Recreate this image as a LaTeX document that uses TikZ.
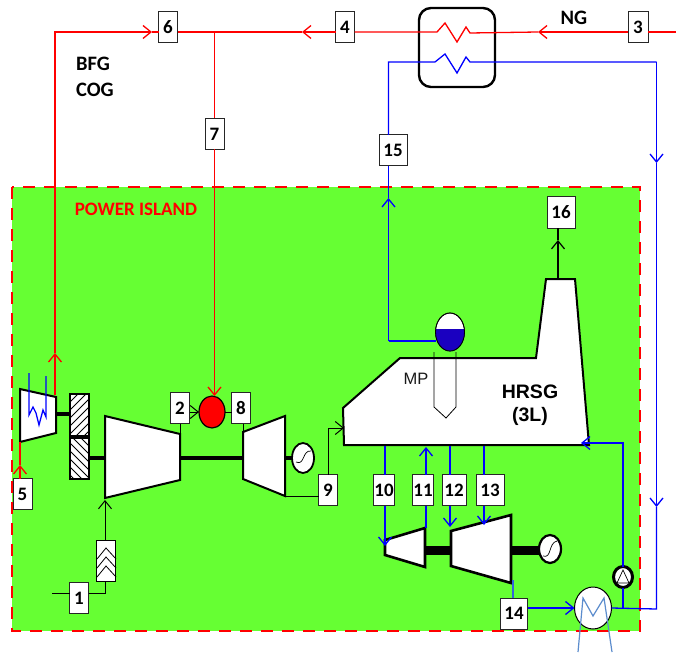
\documentclass[tikz,border=0pt]{standalone}
\usepackage{fontspec}
\setmainfont{Carlito}
\newfontfamily\arialfont{Liberation Sans}
\usetikzlibrary{arrows.meta,shapes.geometric}
\definecolor{islandgreen}{RGB}{102,255,51}
\definecolor{drumblue}{RGB}{26,0,192}
\definecolor{coolblue}{RGB}{91,140,205}
\definecolor{exhblue}{RGB}{50,100,220}
\tikzset{
  numbox/.style={draw=black!85,fill=white,line width=1pt,minimum height=31pt,inner sep=0pt,outer sep=0pt,font=\bfseries\fontsize{19}{19}\selectfont},
  machine/.style={draw,fill=white,line width=2pt,line join=miter},
  shaftline/.style={line width=4.5pt},
  genset/.style={draw,fill=white,ellipse,inner sep=0pt,outer sep=0pt,line width=1.8pt},
  tip/.style={-{Straight Barb[length=8pt,width=13pt]}},
  redline/.style={draw=red,line width=1.3pt},
  blueline/.style={draw=blue,line width=1.3pt},
  blackline/.style={draw=black,line width=1pt},
  lab/.style={font=\bfseries\fontsize{20.5}{20.5}\selectfont}
}
\begin{document}
\begin{tikzpicture}[x=1pt,y=-1pt]
\useasboundingbox (0,0) rectangle (676,652);
\fill[white] (0,0) rectangle (676,652);
\fill[islandgreen] (12,187) rectangle (640,631);
\draw[draw=red,line width=2.8pt,dash pattern=on 12pt off 9pt] (12,187) rectangle (640,631);

% boxes
\node[numbox,minimum width=19pt] (n1) at (79,598) {1};
\node[numbox,minimum width=19pt] (n2) at (180,408) {2};
\node[numbox,minimum width=20pt] (n3) at (638,27) {3};
\node[numbox,minimum width=19pt] (n4) at (345,27) {4};
\node[numbox,minimum width=19pt] (n5) at (22.5,494) {5};
\node[numbox,minimum width=19pt] (n6) at (168,27) {6};
\node[numbox,minimum width=19pt] (n7) at (214.5,134) {7};
\node[numbox,minimum width=19pt] (n8) at (241,408) {8};
\node[numbox,minimum width=19pt] (n9) at (328,490) {9};
\node[numbox,minimum width=21pt] (n10) at (384,490) {10};
\node[numbox,minimum width=21pt] (n11) at (423,490) {11};
\node[numbox,minimum width=24pt] (n12) at (454,490) {12};
\node[numbox,minimum width=28pt] (n13) at (490,490) {13};
\node[numbox,minimum width=27pt] (n14) at (514,613.5) {14};
\node[numbox,minimum width=28pt] (n15) at (393,150.5) {15};
\node[numbox,minimum width=28pt] (n16) at (561,212.5) {16};

% gas turbine train
\draw[shaftline] (56,414) -- (70,414);
\draw[shaftline] (89,458) -- (105,458);
\draw[shaftline] (180,458) -- (243,458);
\draw[shaftline] (285,458) -- (292,458);
\draw[machine] (20,389) -- (56,397) -- (56,433) -- (20,442) -- cycle;
\draw[machine] (105,416) -- (180,434) -- (180,480) -- (105,498) -- cycle;
\draw[machine] (243,432) -- (285,416) -- (285,496) -- (243,479) -- cycle;
\begin{scope}
\clip (70,394) rectangle (89,436);
\fill[white] (70,394) rectangle (89,436);
\foreach \d in {0,8,...,56} \draw[line width=0.8pt] (62,{402+\d}) -- (97,{367+\d});
\end{scope}
\draw[line width=2pt] (70,394) rectangle (89,436);
\begin{scope}
\clip (70,438) rectangle (89,479);
\fill[white] (70,438) rectangle (89,479);
\foreach \d in {0,8,...,56} \draw[line width=0.8pt] (62,{411+\d}) -- (97,{446+\d});
\end{scope}
\draw[line width=2pt] (70,438) rectangle (89,479);
\draw[blueline] (29,373) -- (29,415) -- (33,407) -- (36,413) -- (39,425) -- (43,410) -- (46,417) -- (46,376);
\node[genset,minimum width=22pt,minimum height=30pt] (gen1) at (303,458) {};
\draw[line width=0.7pt] (296,462) .. controls (305,466) and (302,450) .. (311,451);
\node[ellipse,draw,fill=red,line width=1.2pt,inner sep=0pt,outer sep=0pt,minimum width=26pt,minimum height=32pt] (fuel) at (212,412) {};

% air filter
\node[draw,fill=white,line width=1pt,inner sep=0pt,outer sep=0pt,minimum width=19pt,minimum height=41pt] (filter) at (106,560.5) {};
\foreach \d in {0,9,18} \draw[line width=0.8pt] (97,{559+\d}) -- (106,{548+\d}) -- (116,{559+\d});

% HRSG
\draw[machine] (343,408) -- (400,358) -- (536,358) -- (546,279) -- (575,279) -- (589,445) -- (344,445) -- cycle;
\draw[line width=0.8pt] (434,352) -- (434,407) -- (446,418) -- (456,407) -- (456,352);
\node[ellipse,draw,fill=white,line width=0.8pt,inner sep=0pt,outer sep=0pt,minimum width=29pt,minimum height=38pt] (drum) at (450,332) {};
\begin{scope}
\clip (450,332) ellipse (14.5 and 19);
\fill[drumblue] (430,329) rectangle (470,355);
\end{scope}
\draw[line width=0.8pt] (450,332) ellipse (14.5 and 19);
\node[font=\arialfont\fontsize{16.5}{16.5}\selectfont,text=black!90] (mp) at (416,379) {MP};
\node[font=\arialfont\bfseries\fontsize{19.5}{19.5}\selectfont] (hrsg) at (530,392) {HRSG};
\node[font=\arialfont\bfseries\fontsize{19.5}{19.5}\selectfont] (hrsgb) at (530,416) {(3L)};

% steam turbine train
\draw[line width=9pt] (425,550) -- (451,550);
\draw[line width=9pt] (511,550) -- (540,550);
\draw[machine,line width=2.6pt] (385,540) -- (425,528) -- (425,567) -- (385,555) -- cycle;
\draw[machine,line width=2.6pt] (451,531) -- (511,515) -- (511,583) -- (451,566) -- cycle;
\node[genset,line width=2.2pt,minimum width=22pt,minimum height=28pt] (gen2) at (550,549) {};
\draw[line width=0.7pt] (543,556) .. controls (552,559) and (548,543) .. (557,541);

% condenser and pump
\node[ellipse,draw,fill=white,line width=1pt,inner sep=0pt,outer sep=0pt,minimum width=37pt,minimum height=42pt] (cond) at (593,608) {};
\draw[draw=coolblue,line width=1.2pt] (578,652) -- (583,598) -- (593,616) -- (604,598) -- (612,652);
\node[genset,line width=3pt,minimum width=19pt,minimum height=21pt] (pump) at (623,577) {};
\draw[line width=0.7pt] (623,570) -- (617,583) -- (629,583) -- cycle;

% heat exchanger
\node[draw,rounded corners=12pt,line width=2.4pt,inner sep=0pt,outer sep=0pt,minimum width=76pt,minimum height=79pt] (hx) at (457,47.5) {};

% points on the connectors
\coordinate (redin) at (676,32);
\coordinate (tipng) at (538,32);
\coordinate (hxrb) at (470,33);
\coordinate (hxra) at (437,32);
\coordinate (tipfour) at (302,32);
\coordinate (jn) at (214.5,32);
\coordinate (tipsix) at (152,32);
\coordinate (corner) at (55,32);
\coordinate (tipup) at (55,353);
\coordinate (exp) at (55,395);
\coordinate (tipfive) at (20,465);
\coordinate (hxba) at (435,62);
\coordinate (hxbb) at (470,62);
\coordinate (cornb) at (388.5,62);
\coordinate (tipfif) at (388.5,198);
\coordinate (cornc) at (388.5,341);
\coordinate (cornd) at (656.5,62);
\coordinate (tipd) at (656.5,163);
\coordinate (tipe) at (656.5,507);
\coordinate (corne) at (656.5,609);
\coordinate (stack) at (558,279);
\coordinate (tipstack) at (558,240);

% red lines
\draw[redline] (redin) -- (n3.east |- redin);
\draw[redline,tip] (n3.west |- redin) -- (tipng);
\draw[redline] (tipng) -- (hxrb) -- (466,27) -- (457,42) -- (445,23) -- (hxra) -- (n4.east |- hxra);
\draw[redline,tip] (n4.west |- tipfour) -- (tipfour);
\draw[redline] (tipfour) -- (n6.east |- tipfour);
\draw[redline] (jn) -- (n7.north);
\draw[redline,tip] (n7.south) -- (n7.south |- fuel.north);
\draw[redline,tip] (exp) -- (tipup);
\draw[redline,tip] (tipup) -- (corner) -- (tipsix);
\draw[redline] (tipsix) -- (n6.west |- tipsix);
\draw[redline,tip] (n5.north -| tipfive) -- (tipfive);
\draw[redline] (tipfive) -- (20,442);

% blue lines
\draw[blueline] (n15.north -| cornb) -- (cornb) -- (hxba) -- (445,54) -- (457,73) -- (466,57) -- (hxbb) -- (cornd);
\draw[blueline,tip] (cornd) -- (tipd);
\draw[blueline,tip] (tipd) -- (tipe);
\draw[blueline] (tipe) -- (corne) -- (cond.east);
\draw[blueline,tip] (cornc) -- (tipfif);
\draw[blueline] (tipfif) -- (n15.south -| tipfif);
\draw[blueline] (cornc) -- (drum.west |- cornc);
\draw[blueline] (385,446) -- (n10.north -| 385,0);
\draw[blueline,tip] (n10.south -| 385,0) -- (385,546);
\draw[blueline,tip] (n11.north -| 426,0) -- (426,447);
\draw[blueline] (n11.south -| 426,0) -- (426,528);
\draw[blueline] (450,446) -- (n12.north -| 450,0);
\draw[blueline,tip] (n12.south -| 450,0) -- (450,527);
\draw[blueline] (484,446) -- (n13.north -| 484,0);
\draw[blueline,tip] (n13.south -| 484,0) -- (484,525);
\draw[draw=exhblue,line width=1.3pt] (513,580) -- (n14.north -| 513,0);
\draw[blueline,tip] (n14.east |- cond.west) -- (cond.west);
\draw[blueline] (pump.south) -- (pump.south |- cond.east);
\draw[blueline,tip] (pump.north) -- (pump.north |- 0,443) -- (581,443);

% black lines
\draw[blackline] (52,593) -- (n1.west |- 52,593);
\draw[blackline] (n1.east |- 52,593) -- (105,593) -- (filter.south -| 105,0);
\draw[blackline,tip] (filter.north -| 105,0) -- (105,500);
\draw[blackline,tip] (n2.east |- fuel.west) -- (fuel.west);
\draw[blackline] (fuel.east) -- (n8.west |- fuel.east);
\draw[blackline] (180,434) -- (n2.south -| 180,0);
\draw[blackline] (243,432) -- (n8.south -| 243,0);
\draw[blackline] (285,496) -- (n9.west |- 285,496);
\draw[blackline,tip] (n9.north) -- (328,428) -- (344,428);
\draw[blackline,line width=1.2pt,tip] (stack) -- (tipstack);
\draw[blackline,line width=1.2pt] (tipstack) -- (n16.south -| stack);

% labels
\node[lab] (bfg) at (93,64) {BFG};
\node[lab] (cog) at (95,90) {COG};
\node[lab] (ng) at (574,18) {NG};
\node[font=\bfseries\fontsize{19}{19}\selectfont,text=red] (island) at (136,209) {POWER ISLAND};
\end{tikzpicture}
\end{document}
